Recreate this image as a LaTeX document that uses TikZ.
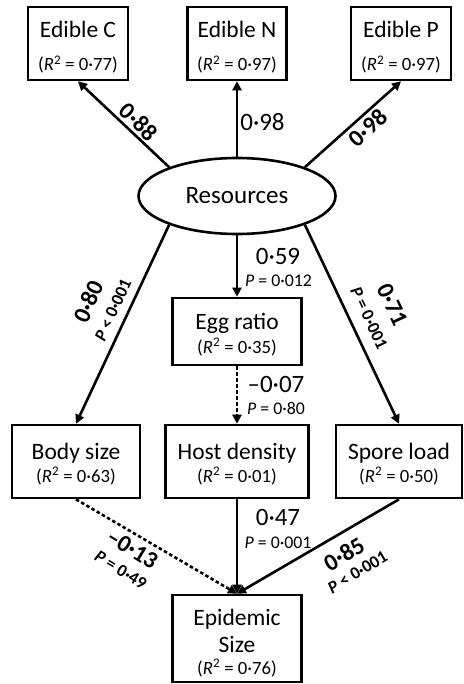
\documentclass[tikz,border=0pt]{standalone}
\usepackage{fontspec}
\setmainfont{Carlito}
\usetikzlibrary{shapes.geometric,arrows.meta}
\newcommand\rsqv[1]{(\textit{R}\textsuperscript{2} = #1)}
\begin{document}
\begin{tikzpicture}[x=1pt,y=-1pt,
  box/.style={draw, rectangle, line width=2.6pt, inner sep=0pt},
  ell/.style={draw, ellipse, line width=2.6pt, inner sep=0pt, minimum width=197pt, minimum height=76pt, font=\fontsize{25}{30}\selectfont},
  ttl/.style={anchor=base, inner sep=0pt, font=\fontsize{23.5}{28}\selectfont},
  rsq/.style={anchor=base, inner sep=0pt, font=\fontsize{18.7}{22}\selectfont},
  coef/.style={inner sep=0pt, font=\fontsize{25}{30}\selectfont},
  pval/.style={inner sep=0pt, font=\fontsize{17.8}{21}\selectfont},
  rcoef/.style={inner sep=0pt, font=\fontsize{24}{28}\selectfont\bfseries},
  rpval/.style={inner sep=0pt, font=\fontsize{17.5}{21}\selectfont\bfseries},
  arr/.style={line width=2.6pt, -{Triangle[length=9pt,width=9pt]}},
  dot/.style={arr, dash pattern=on 3.5pt off 2.5pt}]
\useasboundingbox (0,0) rectangle (463,684);

% boxes
\node[box, minimum width=100pt, minimum height=73pt] (EdC) at (78,43.5) {};
\node[box, minimum width=99pt, minimum height=73pt] (EdN) at (237,43.5) {};
\node[box, minimum width=100pt, minimum height=73pt] (EdP) at (401,43.5) {};
\node[ell] (Res) at (237,196) {Resources};
\node[box, minimum width=129pt, minimum height=67pt] (Egg) at (237,331.5) {};
\node[box, minimum width=128pt, minimum height=73pt] (Body) at (76,461.5) {};
\node[box, minimum width=143pt, minimum height=73pt] (Host) at (237,461.5) {};
\node[box, minimum width=126pt, minimum height=73pt] (Spore) at (399,461.5) {};
\node[box, minimum width=129pt, minimum height=87pt] (Epi) at (237,638.5) {};

% box texts
\node[ttl] (EdCt) at (78,38) {Edible C};
\node[rsq] (EdCr) at (78,71) {\rsqv{0·77}};
\node[ttl] (EdNt) at (237,38) {Edible N};
\node[rsq] (EdNr) at (237,71) {\rsqv{0·97}};
\node[ttl] (EdPt) at (401,38) {Edible P};
\node[rsq] (EdPr) at (401,71) {\rsqv{0·97}};
\node[ttl] (Eggt) at (237,329) {Egg ratio};
\node[rsq] (Eggr) at (237,353) {\rsqv{0·35}};
\node[ttl] (Bodyt) at (76,459) {Body size};
\node[rsq] (Bodyr) at (76,482) {\rsqv{0·63}};
\node[ttl] (Hostt) at (237,459) {Host density};
\node[rsq] (Hostr) at (237,482) {\rsqv{0·01}};
\node[ttl] (Sporet) at (399,459) {Spore load};
\node[rsq] (Sporer) at (399,482) {\rsqv{0·50}};
\node[ttl] (Epit1) at (237,625) {Epidemic};
\node[ttl] (Epit2) at (237,652.5) {Size};
\node[rsq] (Epir) at (237,674) {\rsqv{0·76}};

% connectors
\draw[arr] (Res.157) -- (EdC.south);
\draw[arr] (Res.north) -- (EdN.south);
\draw[arr] (Res.23) -- (EdP.south);
\draw[arr] (Res.203) -- (Body.north);
\draw[arr] (Res.south) -- (Egg.north);
\draw[arr] (Res.337) -- (Spore.north);
\draw[dot] (Egg.south) -- (Host.north);
\draw[dot] (Body.south) -- (Epi.north);
\draw[arr] (Host.south) -- (Epi.north);
\draw[arr] (Spore.south) -- (Epi.north);

% labels
\node[rcoef, rotate=-44.3] (l88) at (139,122) {0·88};
\node[coef] (l98n) at (262.5,122) {0·98};
\node[rcoef, rotate=42.7] (l98p) at (368,128) {0·98};
\node[coef] (l59) at (278,256) {0·59};
\node[pval] (p59) at (278.5,281) {\textit{P} = 0·012};
\node[rcoef, rotate=65.6] (l80) at (88.5,302) {0·80};
\node[rpval, rotate=65.6] (p80) at (113,310) {\textit{P} < 0·001};
\node[rcoef, rotate=-65.1] (l71) at (392.5,305) {0·71};
\node[rpval, rotate=-65.1] (p71) at (369,318) {\textit{P} = 0·001};
\node[coef] (l07) at (276,384.5) {–0·07};
\node[pval] (p07) at (276,408.5) {\textit{P} = 0·80};
\node[rcoef, rotate=-31.4] (l13) at (132.4,549) {–0·13};
\node[rpval, rotate=-31.4] (p13) at (120.7,570) {\textit{P} = 0·49};
\node[coef] (l47) at (278,517) {0·47};
\node[pval] (p47) at (278,543) {\textit{P} = 0·001};
\node[rcoef, rotate=30.8] (l85) at (344,554) {0·85};
\node[rpval, rotate=30.8] (p85) at (357.5,572.3) {\textit{P} < 0·001};
\end{tikzpicture}
\end{document}
